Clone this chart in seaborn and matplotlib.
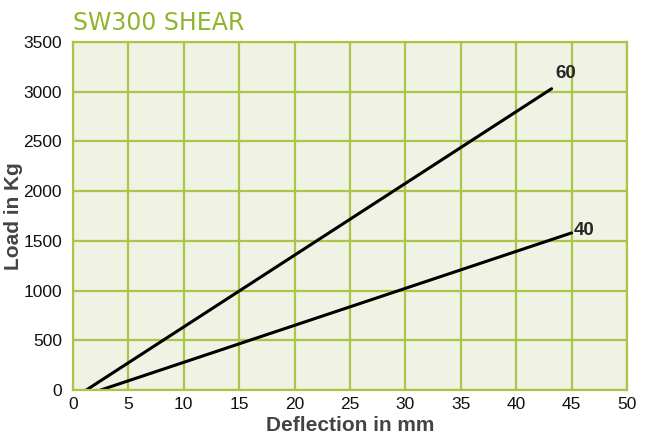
import seaborn as sns
import matplotlib.pyplot as plt
import pandas as pd

# Endpoints of the two load curves
deflection_60 = [1.2, 43.2]
load_60 = [0, 3030]
deflection_40 = [2.5, 45.0]
load_40 = [0, 1580]

x_ticks = [0, 5, 10, 15, 20, 25, 30, 35, 40, 45, 50]
y_ticks = [0, 500, 1000, 1500, 2000, 2500, 3000, 3500]

df = pd.concat([
    pd.DataFrame({'Deflection': deflection_60, 'Load': load_60, 'Series': '60'}),
    pd.DataFrame({'Deflection': deflection_40, 'Load': load_40, 'Series': '40'}),
])

sns.set_style('white')
plt.rcParams['font.family'] = ['Liberation Sans', 'DejaVu Sans']

green = '#a9c64a'
fig = plt.figure(figsize=(6.49, 4.41), dpi=100)
ax = fig.add_axes([0.1125, 0.1156, 0.8535, 0.7892])
ax.set_facecolor('#f0f2e3')

sns.lineplot(data=df, x='Deflection', y='Load', hue='Series',
             palette={'60': 'black', '40': 'black'}, linewidth=2.2,
             legend=False, ax=ax)

# End labels
ax.text(deflection_60[-1] + 0.3, load_60[-1] + 70, '60', fontsize=13.5,
        fontweight='bold', ha='left', va='bottom')
ax.text(deflection_40[-1] + 0.2, load_40[-1] + 20, '40', fontsize=13.5,
        fontweight='bold', ha='left', va='center')

ax.set_xlim(0, 50)
ax.set_ylim(0, 3500)
ax.set_xticks(x_ticks)
ax.set_yticks(y_ticks)
ax.grid(True, color=green, linewidth=1.6)
for s in ax.spines.values():
    s.set_color(green)
    s.set_linewidth(1.6)
ax.tick_params(labelsize=12.5, length=0, colors='#111111')
ax.tick_params(axis='x', pad=5)
ax.tick_params(axis='y', pad=8)

ax.set_xlabel('Deflection in mm', fontsize=15, fontweight='bold',
              color='#444444', labelpad=3)
ax.set_ylabel('Load in Kg', fontsize=15, fontweight='bold',
              color='#444444')
ax.yaxis.set_label_coords(-0.09, 0.5)

fig.text(0.1125, 1 - 30 / 441, 'SW300 SHEAR', fontsize=17, color='#8fb62c',
         family='DejaVu Sans', ha='left', va='baseline')

fig.savefig('out.png', dpi=100)
